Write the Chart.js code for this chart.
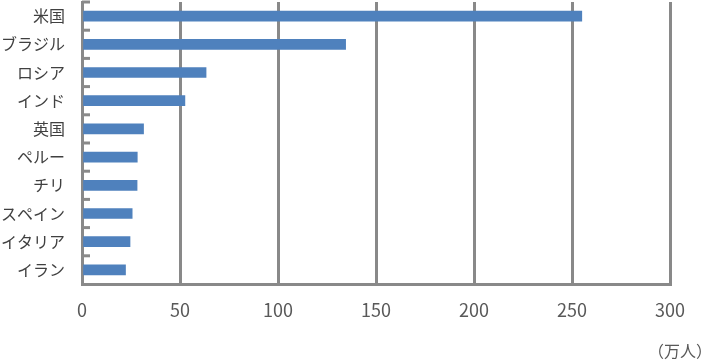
<!DOCTYPE html>
<html lang="ja">
<head>
<meta charset="utf-8">
<script src="https://cdn.jsdelivr.net/npm/chart.js@4"></script>
<style>
  html, body { margin: 0; padding: 0; background: #fff; }
  #wrap { position: relative; width: 712px; height: 363px; }
  #unit {
    position: absolute; right: 0px; top: 338px;
    font: 16px "Noto Sans CJK JP", sans-serif; color: #595959;
  }
</style>
</head>
<body>
<div id="wrap">
  <canvas id="chart"></canvas>
  <div id="unit">（万人）</div>
</div>
<script>
// Countries and values (万人)
const countries = ['米国', 'ブラジル', 'ロシア', 'インド', '英国', 'ペルー', 'チリ', 'スペイン', 'イタリア', 'イラン'];
const cases = [255, 134.5, 63.3, 52.5, 31.4, 28.2, 28.1, 25.6, 24.5, 22.2];
const xTicks = [0, 50, 100, 150, 200, 250, 300];

const GREY = '#898989';
const FONT = '"Noto Sans CJK JP", "Noto Sans", sans-serif';

// small tick stubs on the inner side of the category axis
const categoryStubs = {
  id: 'categoryStubs',
  afterDraw(chart) {
    const y = chart.scales.y;
    const ctx = chart.ctx;
    const left = chart.chartArea.left;
    const half = (y.getPixelForValue(1) - y.getPixelForValue(0)) / 2;
    ctx.save();
    ctx.strokeStyle = GREY;
    ctx.lineWidth = 3;
    for (let i = 0; i < countries.length; i++) {
      const py = y.getPixelForValue(i) - half;
      ctx.beginPath();
      ctx.moveTo(left, py);
      ctx.lineTo(left + 8, py);
      ctx.stroke();
    }
    ctx.restore();
  }
};

new Chart(document.getElementById('chart'), {
  type: 'bar',
  data: {
    labels: countries,
    datasets: [{
      data: cases,
      backgroundColor: '#4f81bd',
      borderWidth: 0,
      barThickness: 10
    }]
  },
  plugins: [categoryStubs],
  options: {
    indexAxis: 'y',
    responsive: true,
    maintainAspectRatio: false,
    animation: false,
    layout: { padding: { top: 2, right: 42, left: 0, bottom: 0 } },
    plugins: { legend: { display: false }, tooltip: { enabled: false } },
    scales: {
      x: {
        min: 0,
        max: 300,
        afterBuildTicks: (s) => { s.ticks = xTicks.map(v => ({ value: v })); },
        afterFit: (s) => { s.height = 79; s.paddingLeft = 0; s.paddingRight = 0; },
        grid: { color: GREY, lineWidth: 3, drawTicks: false },
        border: { display: true, color: GREY, width: 3 },
        ticks: { padding: 15, color: '#595959', font: { family: FONT, size: 18 } }
      },
      y: {
        afterFit: (s) => { s.width = 82; s.paddingTop = 0; s.paddingBottom = 0; },
        grid: { display: false, drawTicks: false },
        border: { display: true, color: GREY, width: 3 },
        ticks: { padding: 17, color: '#404040', font: { family: FONT, size: 16 } }
      }
    }
  }
});
</script>
</body>
</html>
